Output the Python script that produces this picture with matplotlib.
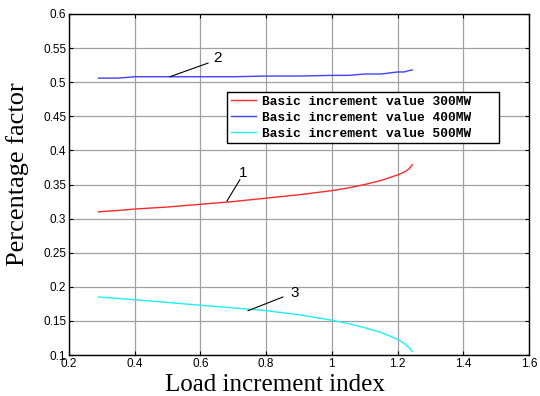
import numpy as np
import matplotlib.pyplot as plt

# values
x = [0.29, 0.35, 0.4, 0.5, 0.6, 0.7, 0.8, 0.9, 1.0, 1.05, 1.1, 1.15, 1.2, 1.22, 1.235, 1.245]
red = [0.310, 0.312, 0.314, 0.317, 0.321, 0.325, 0.330, 0.335, 0.341, 0.345, 0.350, 0.356, 0.364, 0.368, 0.373, 0.379]
blue = [0.506, 0.506, 0.508, 0.508, 0.508, 0.508, 0.509, 0.509, 0.510, 0.510, 0.512, 0.512, 0.515, 0.515, 0.517, 0.518]
cyan = [0.185, 0.183, 0.181, 0.177, 0.173, 0.169, 0.165, 0.159, 0.151, 0.146, 0.140, 0.133, 0.123, 0.117, 0.111, 0.105]

labels = ['Basic increment value 300MW', 'Basic increment value 400MW', 'Basic increment value 500MW']

fig = plt.figure(figsize=(5.4, 3.96), dpi=100)
ax = fig.add_axes([69/540, 41/396, 460/540, 341/396])

ax.plot(x, red, color='#ff2a2a', lw=1, label=labels[0])
ax.plot(x, blue, color='#4040ff', lw=1, label=labels[1])
ax.plot(x, cyan, color='#20f0f0', lw=1, label=labels[2])

# numbered callouts
for num, p0, p1, t in [('1', (0.681, 0.326), (0.72, 0.357), (0.73, 0.367)),
                       ('2', (0.507, 0.508), (0.623, 0.528), (0.653, 0.535)),
                       ('3', (0.745, 0.165), (0.851, 0.185), (0.888, 0.191))]:
    ax.plot([p0[0], p1[0]], [p0[1], p1[1]], color='black', lw=0.8)
    ax.text(t[0], t[1], num, fontsize=11, ha='center', va='center', family='Liberation Sans')

ax.set_xlim(0.2, 1.6)
ax.set_ylim(0.1, 0.6)
ax.set_xticks(np.arange(0.2, 1.61, 0.2))
ax.set_yticks(np.arange(0.1, 0.601, 0.05))
ax.set_xticklabels(['0.2', '0.4', '0.6', '0.8', '1', '1.2', '1.4', '1.6'])
ax.set_yticklabels(['0.1', '0.15', '0.2', '0.25', '0.3', '0.35', '0.4', '0.45', '0.5', '0.55', '0.6'])
ax.tick_params(direction='in', top=True, right=True, labelsize=8.5, length=3, pad=2)
for lab in ax.get_xticklabels() + ax.get_yticklabels():
    lab.set_family('Liberation Sans')
ax.grid(True, color='#a0a0a0', lw=0.9)
for s in ax.spines.values():
    s.set_linewidth(1)

ax.set_xlabel('Load increment index', family='Liberation Serif', fontsize=18)
ax.xaxis.set_label_coords(0.448, -0.1195)
ax.xaxis.label.set_va('bottom')
ax.set_ylabel('Percentage factor', family='Liberation Serif', fontsize=19)
ax.yaxis.set_label_coords(-0.113, 0.529)
ax.yaxis.label.set_va('center')

leg = ax.legend([l + '   ' for l in labels], loc='upper left', bbox_to_anchor=(158/460, 263/341),
                prop={'family': 'Liberation Mono', 'weight': 'bold', 'size': 9.25},
                fancybox=False, framealpha=1, edgecolor='black', borderpad=0.3, labelspacing=0.3,
                handlelength=1.95, handletextpad=0.5, borderaxespad=0)
leg.get_frame().set_linewidth(1)

fig.savefig('out.png', dpi=100)
